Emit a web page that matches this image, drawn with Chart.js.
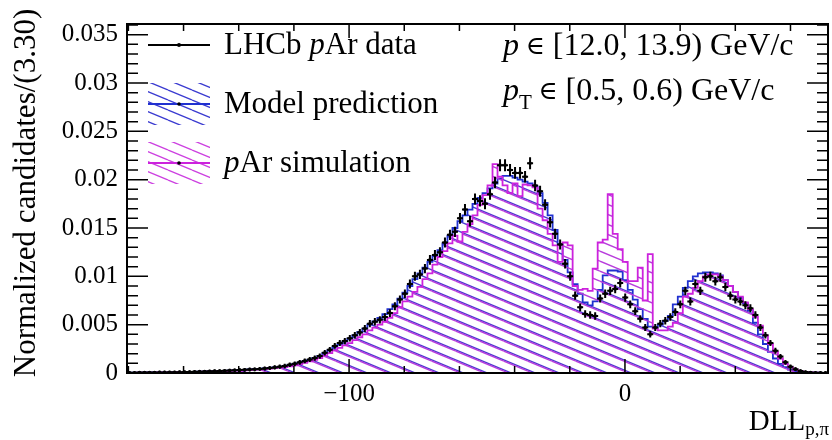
<!DOCTYPE html>
<html>
<head>
<meta charset="utf-8" />
<script src="https://cdn.jsdelivr.net/npm/chart.js@4.4.1/dist/chart.umd.min.js"></script>
<title>DLL p,pi</title>
<style>
  body { margin: 0; background: #fff; }
  #wrap { width: 832px; height: 440px; }
</style>
</head>
<body>
<div id="wrap"><canvas id="dll" width="832" height="440"></canvas></div>
<script>
// binning of the DLL(p,pi) histograms
var X_MIN = -180.5;
var BIN_W = 1.815;
var X_LABELS = [-100, 0];
var Y_LABELS = [0, 0.005, 0.01, 0.015, 0.02, 0.025, 0.03, 0.035];

// LHCb pAr data
var dataY = [
  0.00003, 0.00003, 0.00004, 0.00004, 0.00005, 0.00005, 0.00006, 0.00006, 0.00007, 0.00008,
  0.00009, 0.0001, 0.00011, 0.00012, 0.00014, 0.00015, 0.00017, 0.00019, 0.00021, 0.00023,
  0.00025, 0.00028, 0.0003, 0.00033, 0.00036, 0.00038, 0.00042, 0.00047, 0.00052, 0.00058,
  0.00065, 0.00072, 0.00085, 0.00095, 0.0011, 0.00125, 0.0014, 0.00155, 0.00175, 0.0021,
  0.0024, 0.0028, 0.0031, 0.0033, 0.0036, 0.0039, 0.0042, 0.0046, 0.0051, 0.0053,
  0.0055, 0.0058, 0.0062, 0.0069, 0.0076, 0.0082, 0.0092, 0.01, 0.0102, 0.0108,
  0.0117, 0.0122, 0.0125, 0.0135, 0.0143, 0.0146, 0.016, 0.0169, 0.0157, 0.018,
  0.0178, 0.0175, 0.0185, 0.0197, 0.0215, 0.0215, 0.021, 0.0207, 0.0207, 0.0203,
  0.0217, 0.0194, 0.0188, 0.0174, 0.0156, 0.0144, 0.0133, 0.0113, 0.01, 0.008,
  0.0068, 0.0061, 0.006, 0.0059, 0.0077, 0.0082, 0.0085, 0.0087, 0.0093, 0.0078,
  0.0071, 0.0064, 0.0056, 0.0047, 0.004, 0.0047, 0.0051, 0.0054, 0.0058, 0.0063,
  0.0071, 0.0085, 0.0074, 0.0092, 0.0085, 0.0099, 0.01, 0.0095, 0.0099, 0.0089,
  0.008, 0.0076, 0.0074, 0.007, 0.0067, 0.006, 0.0047, 0.0039, 0.0031, 0.0023,
  0.0017, 0.0011, 0.00065, 0.0004, 0.0002, 0.0001, 0.00005, 0.00003, 0.00002, 0.00001
];
var dataErr = [
  0.00016, 0.00016, 0.00016, 0.00016, 0.00016, 0.00016, 0.00016, 0.00016, 0.00016, 0.00016,
  0.00017, 0.00017, 0.00017, 0.00017, 0.00017, 0.00017, 0.00017, 0.00017, 0.00017, 0.00017,
  0.00018, 0.00018, 0.00019, 0.00019, 0.0002, 0.0002, 0.0002, 0.00021, 0.00021, 0.00022,
  0.00022, 0.00023, 0.00023, 0.00024, 0.00025, 0.00025, 0.00026, 0.00027, 0.00027, 0.00028,
  0.00029, 0.0003, 0.00031, 0.00032, 0.00033, 0.00034, 0.00035, 0.00036, 0.00037, 0.00038,
  0.00038, 0.00039, 0.0004, 0.00041, 0.00042, 0.00044, 0.00046, 0.00047, 0.00047, 0.00048,
  0.0005, 0.00051, 0.00051, 0.00052, 0.00053, 0.00054, 0.00056, 0.00057, 0.00055, 0.00058,
  0.00058, 0.00057, 0.00059, 0.0006, 0.00062, 0.00062, 0.00061, 0.0006, 0.0006, 0.0006,
  0.00062, 0.00059, 0.00058, 0.00057, 0.00054, 0.00053, 0.00052, 0.00048, 0.00047, 0.00043,
  0.0004, 0.00039, 0.00039, 0.00039, 0.00042, 0.00043, 0.00043, 0.00044, 0.00045, 0.00042,
  0.00041, 0.00039, 0.00038, 0.00036, 0.00034, 0.00036, 0.00037, 0.00038, 0.00039, 0.0004,
  0.00041, 0.00043, 0.00042, 0.00045, 0.00043, 0.00046, 0.00047, 0.00046, 0.00046, 0.00044,
  0.00043, 0.00042, 0.00042, 0.00041, 0.0004, 0.00039, 0.00036, 0.00034, 0.00032, 0.0003,
  0.00027, 0.00024, 0.00022, 0.0002, 0.00018, 0.00017, 0.00016, 0.00016, 0.00016, 0.00016
];

// model prediction
var modelY = [
  0.00003, 0.00003, 0.00004, 0.00004, 0.00005, 0.00005, 0.00006, 0.00006, 0.00007, 0.00008,
  0.00009, 0.0001, 0.00011, 0.00012, 0.00013, 0.00015, 0.00017, 0.00019, 0.00021, 0.00023,
  0.00025, 0.00027, 0.0003, 0.00033, 0.00036, 0.00039, 0.00043, 0.00047, 0.00052, 0.00058,
  0.00064, 0.00072, 0.00082, 0.00093, 0.00105, 0.0012, 0.00136, 0.00155, 0.00178, 0.00205,
  0.00235, 0.00265, 0.00295, 0.00325, 0.00355, 0.0039, 0.00425, 0.0046, 0.005, 0.00535,
  0.0057, 0.0061, 0.0066, 0.0071, 0.0077, 0.0083, 0.009, 0.0097, 0.0103, 0.0109,
  0.0115, 0.0121, 0.0127, 0.0134, 0.0142, 0.015, 0.0157, 0.0163, 0.0169, 0.0175,
  0.0181, 0.0186, 0.0191, 0.0196, 0.0201, 0.0204, 0.0204, 0.0202, 0.02, 0.0198,
  0.0196, 0.0193, 0.0186, 0.0176, 0.0163, 0.0148, 0.0133, 0.0117, 0.0104, 0.0092,
  0.0082, 0.0073, 0.007, 0.0074, 0.0086, 0.0101, 0.0106, 0.0106, 0.0105, 0.0096,
  0.0086, 0.0076, 0.0066, 0.0056, 0.0048, 0.0047, 0.005, 0.0054, 0.0059, 0.0071,
  0.0079, 0.0088, 0.0095, 0.01, 0.0103, 0.0104, 0.0104, 0.0103, 0.0101, 0.0096,
  0.009, 0.0084, 0.0078, 0.0072, 0.0065, 0.0052, 0.004, 0.003, 0.0022, 0.0015,
  0.00095, 0.0006, 0.00035, 0.0002, 0.00012, 0.00007, 0.00004, 0.00003, 0.00002, 0.00001
];

// pAr simulation
var simY = [
  0.00002, 0.00002, 0.00003, 0.00003, 0.00004, 0.00004, 0.00005, 0.00005, 0.00006, 0.00007,
  0.00008, 0.00009, 0.0001, 0.00011, 0.00012, 0.00013, 0.00015, 0.00017, 0.00018, 0.0002,
  0.00022, 0.00024, 0.00026, 0.00028, 0.00031, 0.00034, 0.00037, 0.00041, 0.00045, 0.0005,
  0.00056, 0.00062, 0.0007, 0.0008, 0.00092, 0.00105, 0.0012, 0.00136, 0.00155, 0.0018,
  0.00205, 0.00235, 0.0026, 0.00285, 0.0031, 0.0034, 0.0037, 0.004, 0.0044, 0.0047,
  0.005, 0.0053, 0.0057, 0.0062, 0.0068, 0.0074, 0.0079, 0.0084, 0.0089, 0.0097,
  0.0103, 0.0112, 0.012, 0.0126, 0.0134, 0.0142, 0.0136, 0.0146, 0.0154, 0.0163,
  0.0174, 0.0184, 0.0194, 0.0216, 0.0203, 0.0194, 0.0186, 0.0196, 0.0183, 0.0195,
  0.0194, 0.0192, 0.017, 0.0158, 0.0144, 0.0132, 0.0115, 0.0135, 0.0132, 0.009,
  0.0086, 0.0087, 0.0085, 0.0108, 0.0135, 0.0138, 0.0185, 0.0144, 0.0128, 0.0115,
  0.0095, 0.0095, 0.0109, 0.0075, 0.0123, 0.0046, 0.0044, 0.0044, 0.0048, 0.0052,
  0.0062, 0.0079, 0.0082, 0.0088, 0.0095, 0.01, 0.0102, 0.0102, 0.01, 0.0096,
  0.009, 0.0084, 0.0079, 0.0073, 0.0066, 0.0058, 0.0049, 0.0039, 0.003, 0.0022,
  0.0015, 0.00095, 0.0006, 0.00035, 0.0002, 0.0001, 0.00006, 0.00003, 0.00002, 0.00001
];

var SERIF = "'Liberation Serif', 'DejaVu Serif', serif";
var X_MAX = X_MIN + dataY.length * BIN_W;

// histogram outline: one point per low bin edge, plus the last upper edge
function stepPoints(vals) {
  var pts = [];
  for (var i = 0; i < vals.length; i++) {
    pts.push({ x: X_MIN + i * BIN_W, y: vals[i] });
  }
  pts.push({ x: X_MAX, y: vals[vals.length - 1] });
  return pts;
}

function centerPoints(vals) {
  return vals.map(function (v, i) {
    return { x: X_MIN + (i + 0.5) * BIN_W, y: v };
  });
}

// "\\\" hatch fill
function hatch(color, shift, width) {
  var c = document.createElement("canvas");
  c.width = 24;
  c.height = 10;
  var g = c.getContext("2d");
  g.strokeStyle = color;
  g.lineWidth = width;
  for (var dy = -10; dy <= 10; dy += 10) {
    g.beginPath();
    g.moveTo(0, dy + shift);
    g.lineTo(24, dy + 10 + shift);
    g.stroke();
  }
  return g.createPattern(c, "repeat");
}

var blueHatch = hatch("#4a3ad0", 0, 1.4);
var magHatch = hatch("#b83ddc", 1.2, 1.4);
var blueKey = hatch("#3a3ad0", 0, 1.3);
var magKey = hatch("#cc40e0", 0, 1.3);

// text made of pieces (italic p, subscripts ...)
function runs(ctx, x, y, parts) {
  parts.forEach(function (p) {
    ctx.font = (p.it ? "italic " : "") + (p.size || 31) + "px " + SERIF;
    ctx.fillText(p.t, x, y + (p.dy || 0));
    x += ctx.measureText(p.t).width;
  });
}

var errorBars = {
  id: "errorBars",
  afterDatasetsDraw: function (chart) {
    var xs = chart.scales.x, ys = chart.scales.y, ctx = chart.ctx;
    var area = chart.chartArea;
    ctx.save();
    ctx.beginPath();
    ctx.rect(area.left, area.top, area.right - area.left, area.bottom - area.top);
    ctx.clip();
    ctx.strokeStyle = "#000";
    ctx.lineWidth = 2;
    dataY.forEach(function (v, i) {
      var c = X_MIN + (i + 0.5) * BIN_W;
      var py = ys.getPixelForValue(v);
      ctx.beginPath();
      ctx.moveTo(xs.getPixelForValue(c - BIN_W / 2) - 0.5, py);
      ctx.lineTo(xs.getPixelForValue(c + BIN_W / 2) + 0.5, py);
      ctx.moveTo(xs.getPixelForValue(c), ys.getPixelForValue(v - dataErr[i]));
      ctx.lineTo(xs.getPixelForValue(c), ys.getPixelForValue(v + dataErr[i]));
      ctx.stroke();
    });
    ctx.restore();
  }
};

// frame with inward ticks on all four sides, axis titles, legend and text
var rootFrame = {
  id: "rootFrame",
  afterDraw: function (chart) {
    var ctx = chart.ctx, a = chart.chartArea;
    var xs = chart.scales.x, ys = chart.scales.y;
    ctx.save();
    ctx.strokeStyle = "#000";
    ctx.lineWidth = 2;
    ctx.strokeRect(a.left, a.top, a.right - a.left, a.bottom - a.top);

    ctx.lineWidth = 1.5;
    ctx.beginPath();
    for (var v = -180; v <= 60; v += 20) {
      var px = xs.getPixelForValue(v);
      var len = v % 100 === 0 ? 14 : 7;
      ctx.moveTo(px, a.bottom); ctx.lineTo(px, a.bottom - len);
      ctx.moveTo(px, a.top); ctx.lineTo(px, a.top + len);
    }
    for (var k = 0; k <= 36; k++) {
      var py = ys.getPixelForValue(k * 0.001);
      var l = k % 5 === 0 ? 21 : 11;
      ctx.moveTo(a.left, py); ctx.lineTo(a.left + l, py);
      ctx.moveTo(a.right, py); ctx.lineTo(a.right - l, py);
    }
    ctx.stroke();

    ctx.fillStyle = "#000";
    // y title
    ctx.save();
    ctx.translate(35, 193);
    ctx.rotate(-Math.PI / 2);
    ctx.textAlign = "center";
    ctx.textBaseline = "alphabetic";
    ctx.font = "31px " + SERIF;
    ctx.fillText("Normalized candidates/(3.30)", 0, 0);
    ctx.restore();

    // x title
    ctx.textBaseline = "alphabetic";
    ctx.font = "19px " + SERIF;
    var wSub = ctx.measureText("p,\u03c0").width;
    ctx.font = "29px " + SERIF;
    var wD = ctx.measureText("DLL").width;
    runs(ctx, 829 - wSub - wD, 430, [
      { t: "DLL", size: 29 },
      { t: "p,\u03c0", size: 19, dy: 5 }
    ]);

    // legend
    ctx.textBaseline = "middle";
    ctx.strokeStyle = "#000";
    ctx.lineWidth = 2;
    ctx.beginPath(); ctx.moveTo(148, 45); ctx.lineTo(210, 45); ctx.stroke();
    ctx.beginPath(); ctx.arc(179, 45, 2, 0, 2 * Math.PI); ctx.fill();
    runs(ctx, 224, 46, [{ t: "LHCb " }, { t: "p", it: true }, { t: "Ar data" }]);

    ctx.fillStyle = blueKey;
    ctx.fillRect(148, 83, 62, 42);
    ctx.strokeStyle = "#2030d0";
    ctx.beginPath(); ctx.moveTo(148, 104); ctx.lineTo(210, 104); ctx.stroke();
    ctx.fillStyle = "#000";
    ctx.beginPath(); ctx.arc(179, 104, 1.8, 0, 2 * Math.PI); ctx.fill();
    runs(ctx, 224, 105, [{ t: "Model prediction" }]);

    ctx.fillStyle = magKey;
    ctx.fillRect(148, 142, 62, 42);
    ctx.strokeStyle = "#cc22dd";
    ctx.beginPath(); ctx.moveTo(148, 163); ctx.lineTo(210, 163); ctx.stroke();
    ctx.fillStyle = "#000";
    ctx.beginPath(); ctx.arc(179, 163, 1.8, 0, 2 * Math.PI); ctx.fill();
    runs(ctx, 224, 164, [{ t: "p", it: true }, { t: "Ar simulation" }]);

    // kinematic bin
    runs(ctx, 503, 47, [
      { t: "p", it: true, size: 32 },
      { t: " \u2208", size: 26 },
      { t: " [12.0, 13.9) GeV/c", size: 32 }
    ]);
    runs(ctx, 503, 92, [
      { t: "p", it: true, size: 32 },
      { t: "T", size: 21, dy: 11 },
      { t: " \u2208", size: 26 },
      { t: " [0.5, 0.6) GeV/c", size: 32 }
    ]);
    ctx.restore();
  }
};

new Chart(document.getElementById("dll"), {
  type: "line",
  data: {
    datasets: [
      {
        label: "LHCb pAr data",
        data: centerPoints(dataY),
        showLine: false,
        pointRadius: 1.8,
        pointBackgroundColor: "#000",
        pointBorderWidth: 0,
        order: 0
      },
      {
        label: "Model prediction",
        data: stepPoints(modelY),
        stepped: true,
        borderColor: "#2030d0",
        borderWidth: 1.8,
        pointRadius: 0,
        fill: "origin",
        backgroundColor: blueHatch,
        order: 2
      },
      {
        label: "pAr simulation",
        data: stepPoints(simY),
        stepped: true,
        borderColor: "#cc22dd",
        borderWidth: 1.8,
        pointRadius: 0,
        fill: "origin",
        backgroundColor: magHatch,
        order: 1
      }
    ]
  },
  options: {
    responsive: false,
    animation: false,
    devicePixelRatio: 1,
    layout: { padding: { top: 10, right: 4, left: 0, bottom: 0 } },
    plugins: { legend: { display: false }, tooltip: { enabled: false } },
    scales: {
      x: {
        type: "linear",
        min: X_MIN,
        max: X_MAX,
        grid: { display: false, drawTicks: false },
        border: { display: false },
        afterFit: function (s) { s.height = 67; },
        ticks: {
          stepSize: 20,
          includeBounds: false,
          autoSkip: false,
          maxRotation: 0,
          padding: 6,
          color: "#000",
          font: { family: SERIF, size: 25 },
          callback: function (v) {
            return X_LABELS.indexOf(v) >= 0 ? String(v).replace("-", "\u2212") : "";
          }
        }
      },
      y: {
        min: 0,
        max: 0.0361,
        grid: { display: false, drawTicks: false },
        border: { display: false },
        afterFit: function (s) { s.width = 127; },
        ticks: {
          stepSize: 0.001,
          includeBounds: false,
          autoSkip: false,
          padding: 9,
          color: "#000",
          font: { family: SERIF, size: 25 },
          callback: function (v) {
            var r = Math.round(v * 10000) / 10000;
            return Y_LABELS.indexOf(r) >= 0 ? String(r) : "";
          }
        }
      }
    }
  },
  plugins: [errorBars, rootFrame]
});
</script>
</body>
</html>
